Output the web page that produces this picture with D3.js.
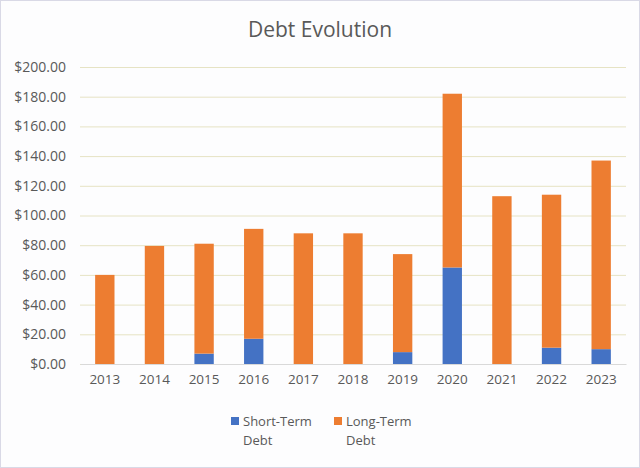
<!DOCTYPE html>
<meta charset="utf-8">
<script src="https://d3js.org/d3.v7.min.js"></script>
<style>
body { margin: 0; background: #fff; }
text { font-family: "Open Sans", "Liberation Sans", Arial, sans-serif; fill: #595959; }
</style>
<body>
<script>

var years = ["2013","2014","2015","2016","2017","2018","2019","2020","2021","2022","2023"];
var shortTerm = [0, 0, 7, 17, 0, 0, 8, 65, 0, 11, 10];
var longTerm  = [60, 79.5, 74, 74, 88, 88, 66, 117, 113, 103, 127];
var yTicks = [0,20,40,60,80,100,120,140,160,180,200];
var seriesNames = ["Short-Term Debt", "Long-Term Debt"];
var colors = ["#4472C4", "#ED7D31"];

var width = 640, height = 468;
var plotLeft = 80, plotRight = 626, plotTop = 67, plotBottom = 364;

var svg = d3.select("body").append("svg")
    .attr("width", width)
    .attr("height", height);

svg.append("rect")
    .attr("x", 0.5).attr("y", 0.5)
    .attr("width", width - 1).attr("height", height - 1)
    .attr("fill", "#fdfdfe")
    .attr("stroke", "#d9d9e6");

svg.append("text")
    .attr("x", 320).attr("y", 37)
    .attr("text-anchor", "middle")
    .style("font-size", "21px")
    .text("Debt Evolution");

var x = d3.scaleBand().domain(years).range([plotLeft, plotRight]).paddingInner(0.61).paddingOuter(0.305);
var y = d3.scaleLinear().domain([0, 200]).range([plotBottom, plotTop]);

// gridlines
svg.append("g")
  .selectAll("line")
  .data(yTicks)
  .enter().append("line")
    .attr("x1", plotLeft).attr("x2", plotRight)
    .attr("y1", function(d) { return y(d) + 0.5; })
    .attr("y2", function(d) { return y(d) + 0.5; })
    .attr("stroke", "#e6e3c4")
    .attr("stroke-width", 1);

var yAxis = svg.append("g")
    .attr("transform", "translate(" + plotLeft + ",0)")
    .call(d3.axisLeft(y).tickValues(yTicks).tickSize(0).tickPadding(14)
      .tickFormat(function(d) { return "$" + d.toFixed(2); }));
yAxis.select(".domain").remove();
yAxis.selectAll("text").style("font-size", "14px").attr("fill", "#595959");

var xAxis = svg.append("g")
    .attr("transform", "translate(0," + plotBottom + ")")
    .call(d3.axisBottom(x).tickSize(0).tickPadding(10));
xAxis.select(".domain").attr("stroke", "#d9d9d9");
xAxis.selectAll("text").style("font-size", "13.5px").attr("fill", "#595959");

var table = years.map(function(yr, i) {
  return { year: yr, s: shortTerm[i], l: longTerm[i] };
});
var stack = d3.stack().keys(["s", "l"])(table);

svg.append("g")
  .selectAll("g")
  .data(stack)
  .enter().append("g")
    .attr("fill", function(d, i) { return colors[i]; })
  .selectAll("rect")
  .data(function(d) { return d; })
  .enter().append("rect")
    .attr("x", function(d) { return x(d.data.year); })
    .attr("width", x.bandwidth())
    .attr("y", function(d) { return y(d[1]); })
    .attr("height", function(d) { return y(d[0]) - y(d[1]); });

// legend
var legendX = [231, 334];
seriesNames.forEach(function(name, i) {
  var g = svg.append("g").attr("transform", "translate(" + legendX[i] + ",416)");
  g.append("rect").attr("width", 8).attr("height", 8).attr("y", 1).attr("fill", colors[i]);
  var words = name.split(" ");
  g.append("text").attr("x", 12).attr("y", 10).style("font-size", "13px").text(words[0]);
  g.append("text").attr("x", 12).attr("y", 29).style("font-size", "13px").text(words[1]);
});

</script>
</body>
